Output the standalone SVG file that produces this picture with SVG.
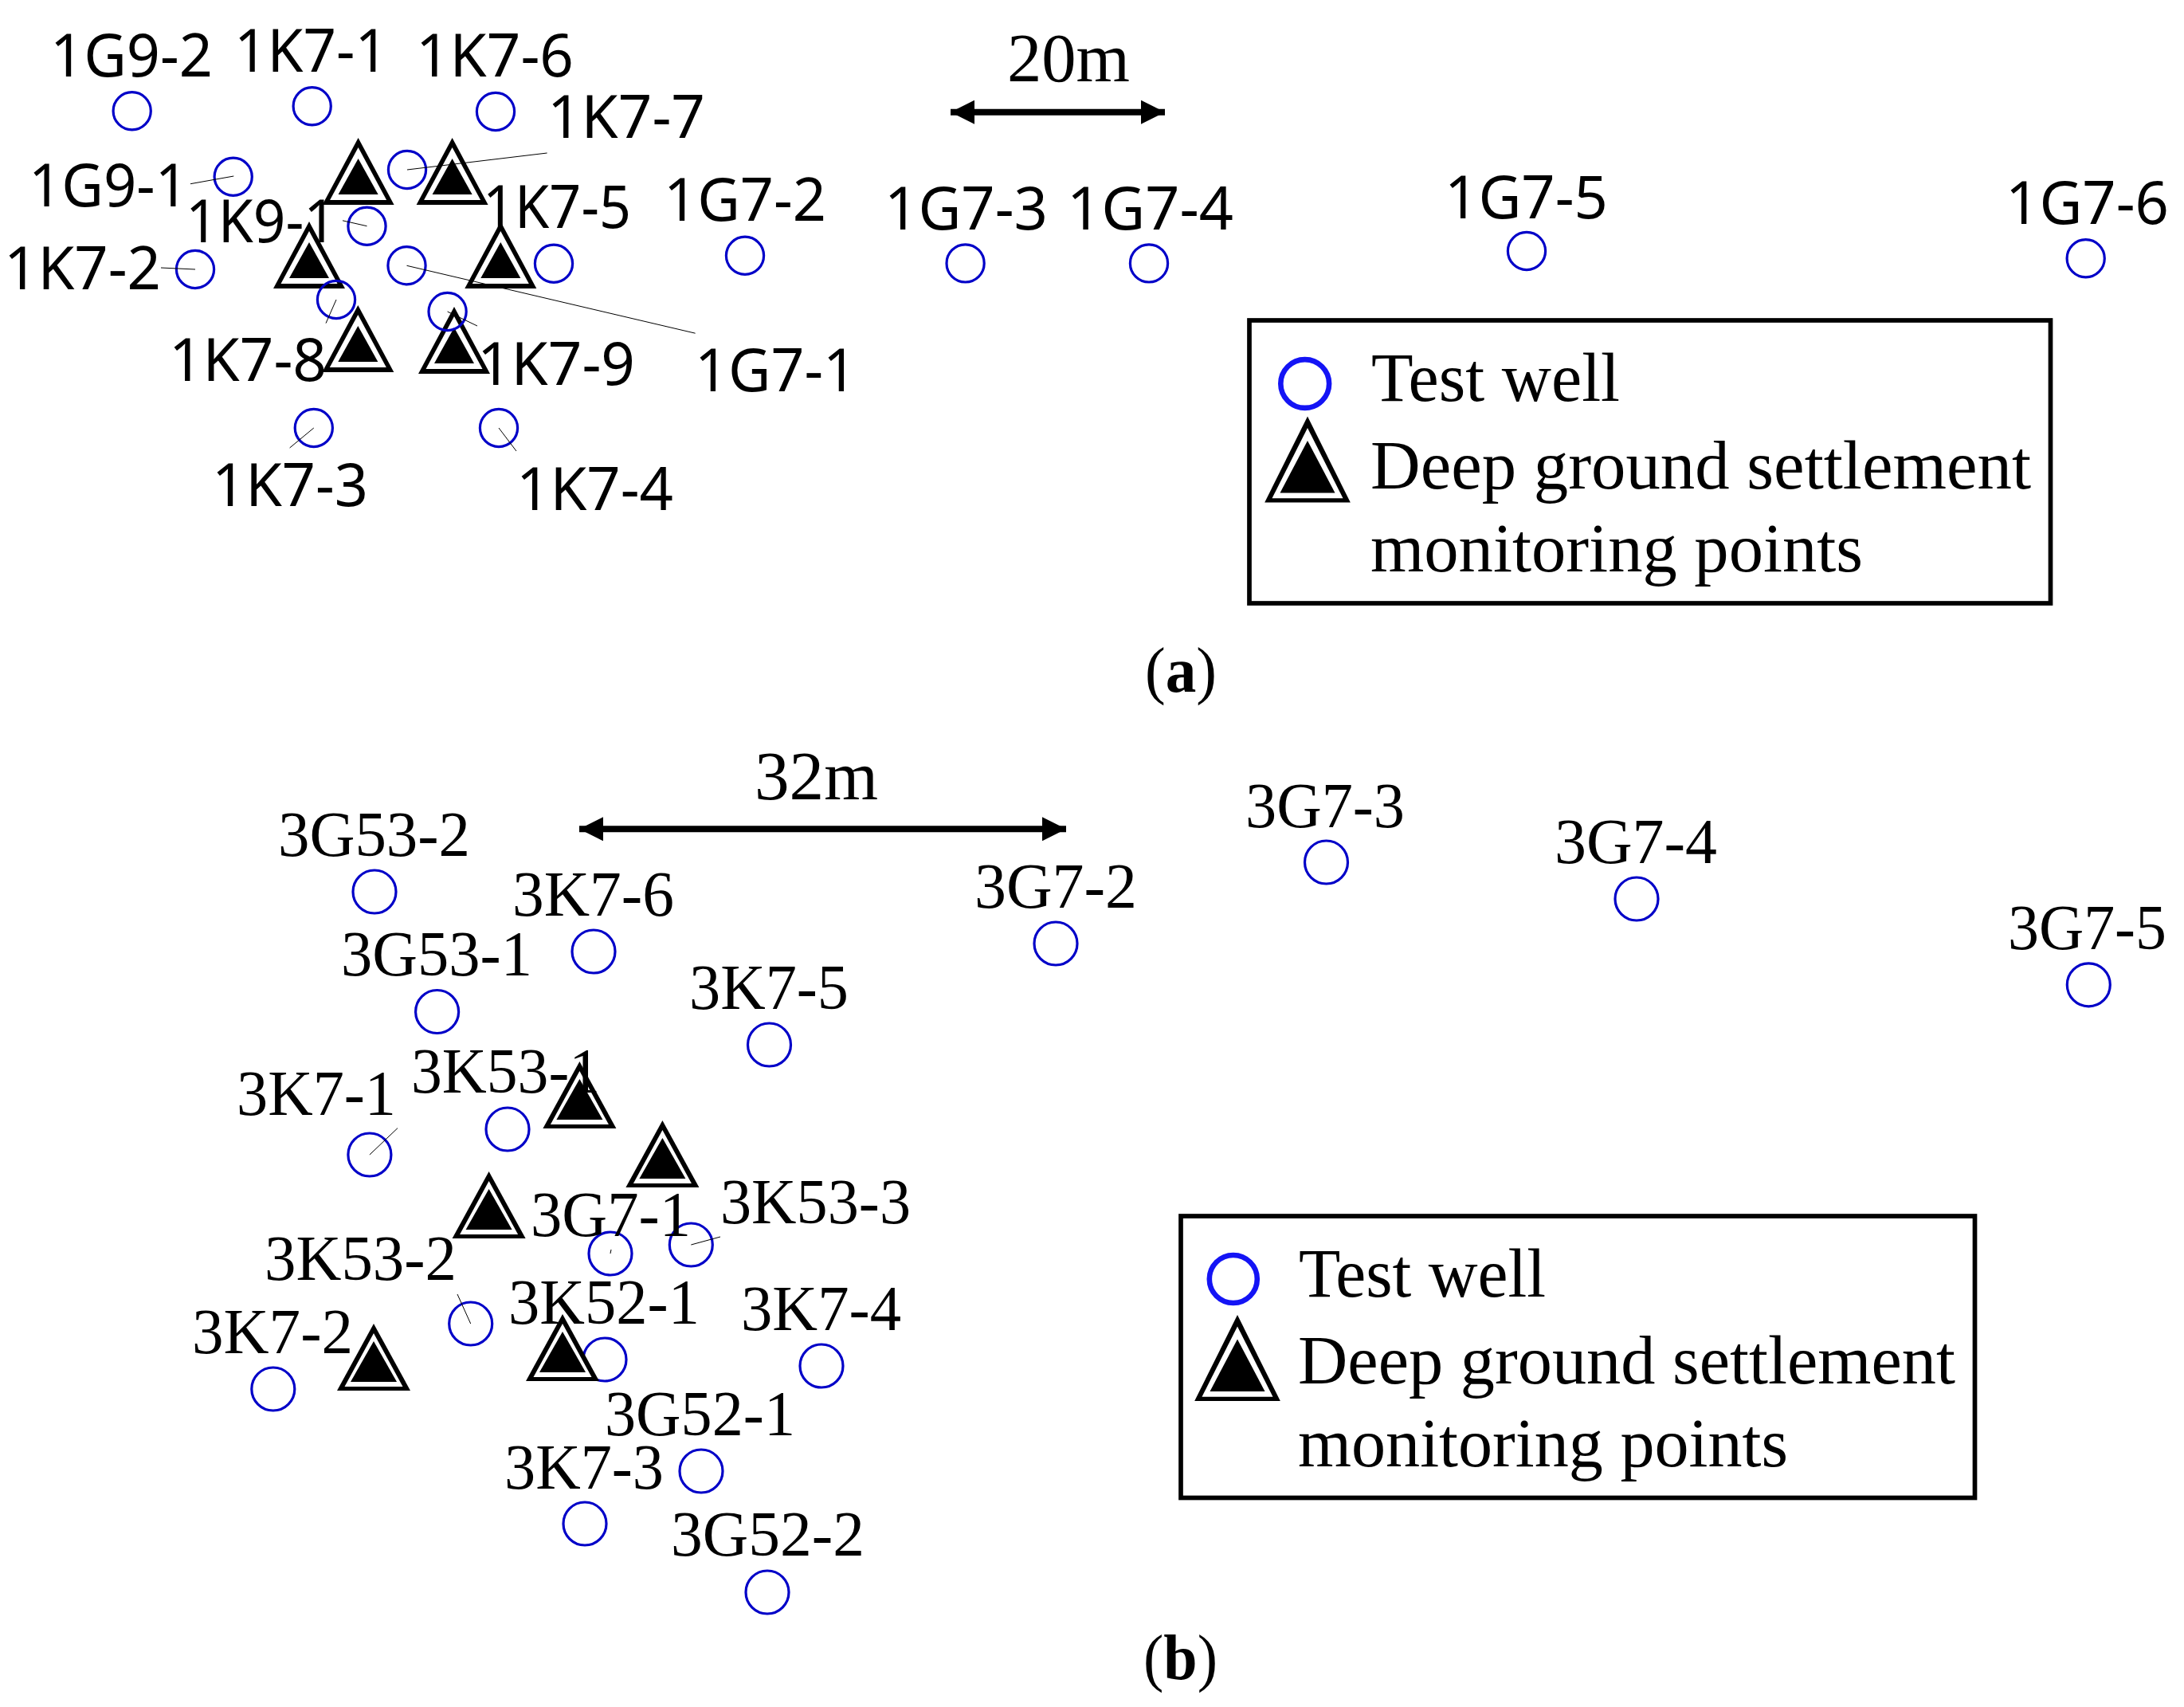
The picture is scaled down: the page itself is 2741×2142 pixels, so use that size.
<svg xmlns="http://www.w3.org/2000/svg" width="2741" height="2142" viewBox="0 0 2741 2142">
<style>
.w{fill:none;stroke:#0000c8;stroke-width:3.2}
.l{stroke:#000;stroke-width:1;fill:none}
.a{font-family:"Noto Sans","Liberation Sans",sans-serif;font-size:75.5px;fill:#000}
.b{font-family:"Liberation Serif","Times New Roman",serif;font-size:80px;fill:#000}
.k{fill:none;stroke:#000;stroke-width:5.7}
.t{font-family:"Liberation Serif","Times New Roman",serif;font-size:87px;fill:#000}
.c{font-family:"Liberation Serif","Times New Roman",serif;font-size:80px;fill:#000}
.bar{stroke:#000;stroke-width:8;fill:none}
.lw{fill:none;stroke:#1414f5;stroke-width:6.6}
</style>
<defs>
<g id="tri-a">
<polygon points="0,0 45,84 -45,84" fill="#000"/>
<polygon points="0,12 35.5,78 -35.5,78" fill="#fff"/>
<polygon points="0,26 25,71 -25,71" fill="#000"/>
</g>
<g id="tri-b">
<polygon points="0,0 46,84 -46,84" fill="#000"/>
<polygon points="0,12 36.5,79 -36.5,79" fill="#fff"/>
<polygon points="0,22 29,73 -29,73" fill="#000"/>
</g>
<g id="tri-l">
<polygon points="0,0 53.8,108 -53.8,108" fill="#000"/>
<polygon points="0,14.4 44.5,102.7 -44.5,102.7" fill="#fff"/>
<polygon points="0,30.4 34.5,96 -34.5,96" fill="#000"/>
</g>
<marker id="ah" viewBox="0 0 30 30" refX="30" refY="15" markerWidth="30" markerHeight="30" markerUnits="userSpaceOnUse" orient="auto-start-reverse"><polygon points="0,0 30,15 0,30" fill="#000"/></marker>
</defs>
<rect width="2741" height="2142" fill="#fff"/>
<g id="panel-a-triangles">
<use href="#tri-a" x="449.6" y="173"/>
<use href="#tri-a" x="567.6" y="173"/>
<use href="#tri-a" x="388" y="278"/>
<use href="#tri-a" x="628.3" y="278"/>
<use href="#tri-a" x="449.3" y="383"/>
<use href="#tri-a" x="570" y="385"/>
</g>
<g id="panel-a-wells">
<circle id="w-1G9-2" class="w" cx="165.7" cy="139.3" r="23.6"/>
<circle id="w-1K7-1" class="w" cx="391.7" cy="133.3" r="23.6"/>
<circle id="w-1K7-6" class="w" cx="622" cy="140" r="23.6"/>
<circle id="w-1G9-1" class="w" cx="292.7" cy="221.7" r="23.6"/>
<circle id="w-1K7-7" class="w" cx="511" cy="213" r="23.6"/>
<circle id="w-1K9-1" class="w" cx="460.5" cy="283.7" r="23.6"/>
<circle id="w-1K7-5" class="w" cx="695" cy="330.7" r="23.6"/>
<circle id="w-1G7-2" class="w" cx="935" cy="320.7" r="23.6"/>
<circle id="w-1K7-2" class="w" cx="245" cy="338" r="23.6"/>
<circle id="w-1G7-1" class="w" cx="510.5" cy="333.3" r="23.6"/>
<circle id="w-1K7-8" class="w" cx="422" cy="376" r="23.6"/>
<circle id="w-1K7-9" class="w" cx="561.6" cy="391" r="23.6"/>
<circle id="w-1K7-3" class="w" cx="393.8" cy="537" r="23.6"/>
<circle id="w-1K7-4" class="w" cx="626" cy="537" r="23.6"/>
<circle id="w-1G7-3" class="w" cx="1211.6" cy="330.4" r="23.6"/>
<circle id="w-1G7-4" class="w" cx="1442" cy="330.4" r="23.6"/>
<circle id="w-1G7-5" class="w" cx="1916" cy="315" r="23.6"/>
<circle id="w-1G7-6" class="w" cx="2617.7" cy="324.3" r="23.6"/>
</g>
<g id="panel-a-connectors">
<line class="l" x1="239" y1="230.7" x2="293.3" y2="221"/>
<line class="l" x1="511" y1="213" x2="686.6" y2="192"/>
<line class="l" x1="430" y1="276.8" x2="460.5" y2="283.7"/>
<line class="l" x1="202" y1="336" x2="245" y2="338"/>
<line class="l" x1="510.5" y1="333.3" x2="872.6" y2="418.2"/>
<line class="l" x1="422" y1="376" x2="409" y2="405.6"/>
<line class="l" x1="561.6" y1="391" x2="599" y2="409"/>
<line class="l" x1="393.8" y1="537" x2="363.6" y2="562"/>
<line class="l" x1="626" y1="537" x2="648" y2="566"/>
</g>
<g id="panel-a-labels" class="a">
<text x="63" y="96" textLength="204" lengthAdjust="spacingAndGlyphs">1G9-2</text>
<text x="294" y="90" textLength="193" lengthAdjust="spacingAndGlyphs">1K7-1</text>
<text x="522" y="96" textLength="198" lengthAdjust="spacingAndGlyphs">1K7-6</text>
<text x="687" y="173" textLength="198" lengthAdjust="spacingAndGlyphs">1K7-7</text>
<text x="36" y="259" textLength="200" lengthAdjust="spacingAndGlyphs">1G9-1</text>
<text x="233" y="304" textLength="189" lengthAdjust="spacingAndGlyphs">1K9-1</text>
<text x="606" y="286" textLength="186" lengthAdjust="spacingAndGlyphs">1K7-5</text>
<text x="833" y="277" textLength="204" lengthAdjust="spacingAndGlyphs">1G7-2</text>
<text x="5" y="363" textLength="197" lengthAdjust="spacingAndGlyphs">1K7-2</text>
<text x="212" y="478" textLength="198" lengthAdjust="spacingAndGlyphs">1K7-8</text>
<text x="599" y="483" textLength="198" lengthAdjust="spacingAndGlyphs">1K7-9</text>
<text x="872" y="491" textLength="203" lengthAdjust="spacingAndGlyphs">1G7-1</text>
<text x="266" y="635" textLength="196" lengthAdjust="spacingAndGlyphs">1K7-3</text>
<text x="648" y="640" textLength="197" lengthAdjust="spacingAndGlyphs">1K7-4</text>
<text x="1110" y="288" textLength="205" lengthAdjust="spacingAndGlyphs">1G7-3</text>
<text x="1339" y="288" textLength="209" lengthAdjust="spacingAndGlyphs">1G7-4</text>
<text x="1813" y="274" textLength="205" lengthAdjust="spacingAndGlyphs">1G7-5</text>
<text x="2517" y="281" textLength="205" lengthAdjust="spacingAndGlyphs">1G7-6</text>
</g>
<g id="scale-a">
<line class="bar" x1="1193" y1="140.7" x2="1462" y2="140.7" marker-start="url(#ah)" marker-end="url(#ah)"/>
<text class="t" x="1264" y="102" textLength="154" lengthAdjust="spacingAndGlyphs">20m</text>
</g>
<g id="legend-a">
<rect class="k" x="1568" y="402" width="1005.5" height="355"/>
<circle class="lw" cx="1637.7" cy="481.5" r="30.4"/>
<use href="#tri-l" x="1641" y="522.5"/>
<text class="t" x="1721" y="503" textLength="312" lengthAdjust="spacingAndGlyphs">Test well</text>
<text class="t" x="1720" y="612.7" textLength="829" lengthAdjust="spacingAndGlyphs">Deep ground settlement</text>
<text class="t" x="1720" y="716.7" textLength="618" lengthAdjust="spacingAndGlyphs">monitoring points</text>
</g>
<text id="cap-a" class="c" x="1437" y="868" textLength="90" lengthAdjust="spacingAndGlyphs">(<tspan font-weight="bold">a</tspan>)</text>
<g id="panel-b-wells">
<circle id="w-3G53-2" class="w" cx="470" cy="1119" r="27"/>
<circle id="w-3K7-6" class="w" cx="745" cy="1194" r="27"/>
<circle id="w-3G53-1" class="w" cx="548.6" cy="1269.5" r="27"/>
<circle id="w-3K7-5" class="w" cx="965.5" cy="1311" r="27"/>
<circle id="w-3G7-2" class="w" cx="1325" cy="1184" r="27"/>
<circle id="w-3G7-3" class="w" cx="1664.5" cy="1082" r="27"/>
<circle id="w-3G7-4" class="w" cx="2054" cy="1128" r="27"/>
<circle id="w-3G7-5" class="w" cx="2621.3" cy="1235.8" r="27"/>
<circle id="w-3K53-1" class="w" cx="637" cy="1417" r="27"/>
<circle id="w-3K7-1" class="w" cx="463.9" cy="1449" r="27"/>
<circle id="w-3G7-1" class="w" cx="766" cy="1573" r="27"/>
<circle id="w-3K53-3" class="w" cx="867.3" cy="1562" r="27"/>
<circle id="w-3K53-2" class="w" cx="590.7" cy="1661" r="27"/>
<circle id="w-3K52-1" class="w" cx="759" cy="1706" r="27"/>
<circle id="w-3K7-4" class="w" cx="1031" cy="1714" r="27"/>
<circle id="w-3K7-2" class="w" cx="342.8" cy="1743" r="27"/>
<circle id="w-3G52-1" class="w" cx="880" cy="1846" r="27"/>
<circle id="w-3K7-3" class="w" cx="734" cy="1912" r="27"/>
<circle id="w-3G52-2" class="w" cx="963" cy="1998" r="27"/>
</g>
<g id="panel-b-triangles">
<use href="#tri-b" x="727.4" y="1332"/>
<use href="#tri-b" x="831.4" y="1406"/>
<use href="#tri-b" x="613.6" y="1470"/>
<use href="#tri-b" x="469" y="1661"/>
<use href="#tri-b" x="706" y="1649"/>
</g>
<g id="panel-b-connectors">
<line class="l" x1="463.9" y1="1449" x2="499" y2="1415.6"/>
<line class="l" x1="766" y1="1573" x2="767" y2="1568"/>
<line class="l" x1="867.3" y1="1562" x2="904" y2="1552"/>
<line class="l" x1="590.7" y1="1661" x2="574" y2="1624"/>
</g>
<g id="panel-b-labels" class="b">
<text x="349" y="1074" textLength="241" lengthAdjust="spacingAndGlyphs">3G53-2</text>
<text x="643" y="1149" textLength="203" lengthAdjust="spacingAndGlyphs">3K7-6</text>
<text x="428" y="1224" textLength="240" lengthAdjust="spacingAndGlyphs">3G53-1</text>
<text x="865" y="1266" textLength="200" lengthAdjust="spacingAndGlyphs">3K7-5</text>
<text x="1223" y="1139" textLength="204" lengthAdjust="spacingAndGlyphs">3G7-2</text>
<text x="1563" y="1038" textLength="200" lengthAdjust="spacingAndGlyphs">3G7-3</text>
<text x="1951" y="1083" textLength="204" lengthAdjust="spacingAndGlyphs">3G7-4</text>
<text x="2520" y="1191" textLength="199" lengthAdjust="spacingAndGlyphs">3G7-5</text>
<text x="297" y="1399" textLength="200" lengthAdjust="spacingAndGlyphs">3K7-1</text>
<text x="516" y="1371" textLength="237" lengthAdjust="spacingAndGlyphs">3K53-1</text>
<text x="666" y="1551" textLength="201" lengthAdjust="spacingAndGlyphs">3G7-1</text>
<text x="904" y="1535" textLength="239" lengthAdjust="spacingAndGlyphs">3K53-3</text>
<text x="332" y="1606" textLength="241" lengthAdjust="spacingAndGlyphs">3K53-2</text>
<text x="638" y="1661" textLength="240" lengthAdjust="spacingAndGlyphs">3K52-1</text>
<text x="930" y="1669" textLength="201" lengthAdjust="spacingAndGlyphs">3K7-4</text>
<text x="241" y="1698" textLength="202" lengthAdjust="spacingAndGlyphs">3K7-2</text>
<text x="759" y="1801" textLength="239" lengthAdjust="spacingAndGlyphs">3G52-1</text>
<text x="633" y="1868" textLength="200" lengthAdjust="spacingAndGlyphs">3K7-3</text>
<text x="842" y="1952" textLength="243" lengthAdjust="spacingAndGlyphs">3G52-2</text>
</g>
<g id="scale-b">
<line class="bar" x1="727" y1="1040.3" x2="1338" y2="1040.3" marker-start="url(#ah)" marker-end="url(#ah)"/>
<text class="t" x="947" y="1003" textLength="155" lengthAdjust="spacingAndGlyphs">32m</text>
</g>
<g id="legend-b">
<rect class="k" x="1482" y="1526" width="996.5" height="353.5"/>
<circle class="lw" cx="1547.8" cy="1605" r="30"/>
<use href="#tri-l" x="1553" y="1650"/>
<text class="t" x="1630" y="1627" textLength="310" lengthAdjust="spacingAndGlyphs">Test well</text>
<text class="t" x="1629" y="1736" textLength="825" lengthAdjust="spacingAndGlyphs">Deep ground settlement</text>
<text class="t" x="1629" y="1840" textLength="615" lengthAdjust="spacingAndGlyphs">monitoring points</text>
</g>
<text id="cap-b" class="c" x="1435" y="2107" textLength="93" lengthAdjust="spacingAndGlyphs">(<tspan font-weight="bold">b</tspan>)</text>
</svg>
